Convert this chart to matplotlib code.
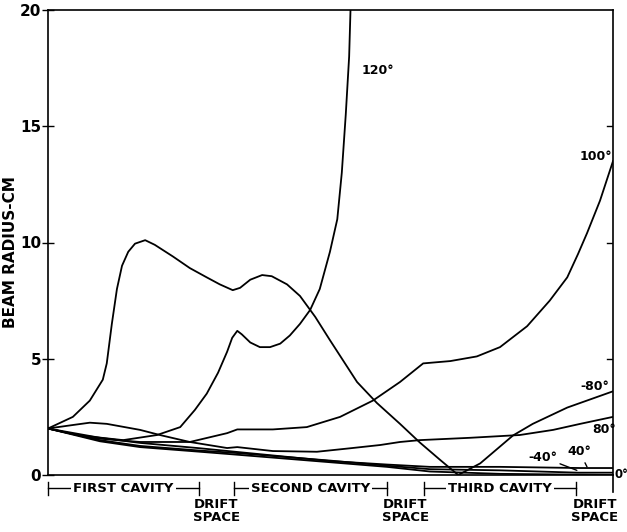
import numpy as np
import matplotlib
matplotlib.use("Agg")
import matplotlib.pyplot as plt

# position along the structure, 0..100 (percent of total length)
# for each phase angle; radius in cm
x_m80 = [0, 4.4, 7.4, 9.7, 10.4, 11.3, 12.2, 13.1, 14.2, 15.4, 17.2, 18.9, 22.1,
         25.1, 28.1, 30.4, 32.7, 34.0, 35.8, 37.9, 39.6, 42.3, 44.6, 47.3, 49.9,
         54.7, 58.2, 62.3, 65.8, 69.4, 72.6, 76.5, 82.3, 85.8, 91.9, 100]
y_m80 = [2.0, 2.5, 3.2, 4.1, 4.8, 6.5, 8.0, 9.0, 9.6, 9.95, 10.1, 9.9, 9.4,
         8.9, 8.5, 8.2, 7.95, 8.05, 8.4, 8.6, 8.55, 8.2, 7.7, 6.8, 5.8,
         4.0, 3.1, 2.2, 1.4, 0.65, 0.0, 0.5, 1.7, 2.2, 2.9, 3.6]

x_120 = [0, 5.7, 13.3, 19.3, 23.4, 26.0, 28.1, 30.1, 31.7, 32.6, 33.5, 34.3, 35.8,
         37.5, 39.3, 41.1, 42.8, 44.6, 46.4, 48.1, 49.9, 51.2, 52.0, 52.7, 53.3, 53.6]
y_120 = [2.0, 1.7, 1.5, 1.72, 2.06, 2.8, 3.5, 4.4, 5.3, 5.9, 6.2, 6.05, 5.7,
         5.5, 5.5, 5.65, 6.0, 6.5, 7.1, 8.0, 9.6, 11.0, 13.0, 15.5, 18.0, 20.5]

x_100 = [0, 7.4, 16.3, 25.1, 31.7, 33.5, 39.8, 45.8, 51.7, 57.5, 62.3, 66.4,
         71.2, 75.9, 80.0, 84.8, 88.8, 91.9, 93.8, 95.4, 97.7, 100]
y_100 = [2.0, 1.6, 1.42, 1.42, 1.8, 1.96, 1.96, 2.06, 2.5, 3.2, 4.0, 4.8,
         4.9, 5.1, 5.5, 6.4, 7.5, 8.5, 9.5, 10.4, 11.8, 13.5]

x_80 = [0, 4.4, 7.4, 10.4, 16.3, 19.8, 25.1, 31.7, 33.5, 39.8, 47.6, 53.5, 58.8,
        62.3, 65.8, 74.7, 83.5, 89.4, 94.2, 100]
y_80 = [2.0, 2.15, 2.25, 2.2, 1.94, 1.72, 1.42, 1.16, 1.2, 1.03, 1.0, 1.15, 1.29,
        1.42, 1.5, 1.6, 1.72, 1.94, 2.2, 2.5]

x_40 = [0, 9.2, 16.3, 26.9, 33.1, 49.9, 60.0, 67.6, 80.0, 94.2, 100]
y_40 = [2.0, 1.6, 1.38, 1.15, 1.0, 0.6, 0.45, 0.35, 0.35, 0.3, 0.3]

x_m40 = [0, 9.2, 16.3, 26.9, 33.1, 49.9, 60.0, 67.6, 80.0, 93.8, 100]
y_m40 = [2.0, 1.5, 1.25, 1.05, 0.95, 0.62, 0.4, 0.25, 0.2, 0.1, 0.1]

x_0 = [0, 9.2, 16.3, 26.9, 33.1, 49.9, 60.0, 67.6, 80.0, 100]
y_0 = [2.0, 1.45, 1.2, 1.0, 0.88, 0.55, 0.35, 0.15, 0.05, 0.0]

# sections along the structure: (start, end, label)
cavities = [(0, 26.7, "FIRST CAVITY"), (32.9, 60.0, "SECOND CAVITY"),
            (66.5, 93.5, "THIRD CAVITY")]
drifts = [(26.7, 32.9), (60.0, 66.5), (93.5, 100)]

yticks = [0, 5, 10, 15, 20]

plt.rcParams["font.family"] = ["DejaVu Sans"]
plt.rcParams["font.weight"] = "bold"

fig = plt.figure(figsize=(6.27, 5.32), dpi=100)
ax = fig.add_axes([48 / 627, 1 - 475 / 532, 565 / 627, 465 / 532])

for xs, ys in [(x_m80, y_m80), (x_120, y_120), (x_100, y_100), (x_80, y_80),
               (x_40, y_40), (x_m40, y_m40), (x_0, y_0)]:
    ax.plot(xs, ys, color="black", lw=1.3, solid_joinstyle="round", clip_on=True)

ax.set_xlim(0, 100)
ax.set_ylim(0, 20)
ax.set_xticks([])
ax.set_yticks(yticks)
ax.set_yticklabels([str(t) for t in yticks], fontsize=11, fontweight="bold")
ax.tick_params(axis="y", which="major", direction="inout", length=8, width=1,
               pad=1, left=True, right=False)
# inward ticks on the right edge
for t in yticks[1:-1]:
    ax.plot([98.9, 100], [t, t], color="black", lw=1)
for s in ax.spines.values():
    s.set_linewidth(1.2)
ax.set_ylabel("BEAM RADIUS-CM", fontsize=11, fontweight="bold")
ax.yaxis.set_label_coords(-0.053, 0.48)

# curve labels
lab = dict(fontsize=9, fontweight="bold", ha="left", va="center")
ax.text(55.5, 17.4, "120°", **lab)
ax.text(94.0, 13.7, "100°", **lab)
ax.text(94.2, 3.8, "-80°", **lab)
ax.text(96.3, 1.95, "80°", **lab)
ax.text(100.2, 0.0, "0°", fontsize=8.5, fontweight="bold", ha="left",
        va="center")
ax.annotate("-40°", xy=(93.6, 0.2), xytext=(85.0, 0.77), fontsize=9,
            fontweight="bold", ha="left", va="center",
            arrowprops=dict(arrowstyle="-", color="black", lw=1,
                            shrinkA=0, shrinkB=0))
ax.annotate("40°", xy=(95.4, 0.35), xytext=(91.9, 1.03), fontsize=9,
            fontweight="bold", ha="left", va="center",
            arrowprops=dict(arrowstyle="-", color="black", lw=1,
                            shrinkA=2, shrinkB=0))

# section brackets below the axis
ty = -0.56
for x0, x1, name in cavities:
    xm = (x0 + x1) / 2
    ax.text(xm, ty, name, fontsize=9.5, fontweight="bold", ha="center",
            va="center", clip_on=False, bbox=dict(fc="white", ec="none", pad=1.5))
    ax.plot([x0, x1], [ty, ty], color="black", lw=1, clip_on=False, zorder=1)
    for xe in (x0, x1):
        ax.plot([xe, xe], [ty - 0.28, ty + 0.28], color="black", lw=1, clip_on=False)
ax.plot([100, 100], [0, -0.75], color="black", lw=1.2, clip_on=False)

for x0, x1 in drifts:
    ax.text((x0 + x1) / 2, -1.55, "DRIFT\nSPACE", fontsize=9.5, fontweight="bold",
            ha="center", va="center", linespacing=1.05, clip_on=False)

fig.savefig("out.png", dpi=100)
